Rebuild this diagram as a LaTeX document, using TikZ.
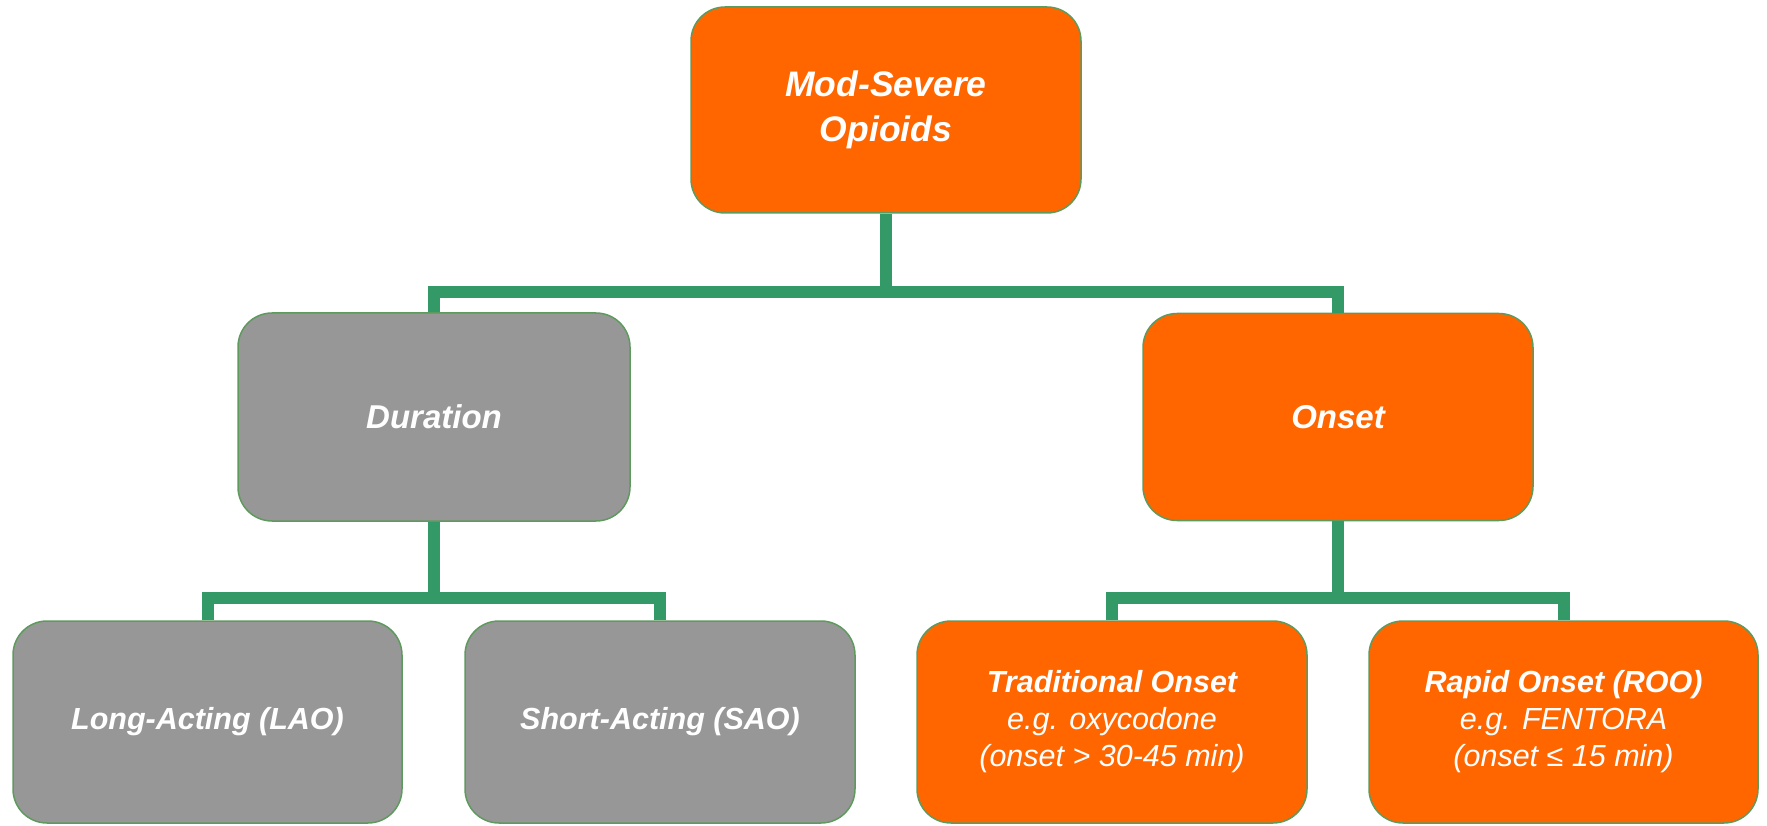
\documentclass[tikz,border=0pt]{standalone}
\usepackage{fontspec}
\setmainfont{Liberation Sans}
\definecolor{conn}{HTML}{339966}
\definecolor{edge}{HTML}{5E9A5E}
\definecolor{orangefill}{HTML}{FF6600}
\definecolor{grayfill}{HTML}{979797}
\tikzset{
  box/.style={rectangle, rounded corners=34pt, draw=edge, line width=1.5pt,
    inner sep=0pt, text=white, align=center},
  orbox/.style={box, fill=orangefill},
  grbox/.style={box, fill=grayfill},
  bigfont/.style={font=\fontsize{35.5pt}{45pt}\selectfont\bfseries\itshape},
  midfont/.style={font=\fontsize{33pt}{40pt}\selectfont\bfseries\itshape},
  lowfont/.style={font=\fontsize{30.5pt}{37pt}\selectfont},
  link/.style={draw=conn, line width=12pt, line join=miter},
}
\begin{document}
\begin{tikzpicture}[x=1pt,y=-1pt]
\useasboundingbox (0,0) rectangle (1767,826);
% connectors (drawn first, boxes on top)
\coordinate (b1) at (886,292);
\coordinate (b2) at (434,598);
\coordinate (b3) at (1338,598);
% nodes
\node[orbox, bigfont, minimum width=390pt, minimum height=206pt] (top) at (886,110) {Mod-Severe\\Opioids};
\node[grbox, midfont, minimum width=392pt, minimum height=208pt] (dur) at (434,417) {Duration};
\node[orbox, midfont, minimum width=390pt, minimum height=207pt] (ons) at (1338,417) {Onset};
\node[grbox, lowfont, minimum width=389pt, minimum height=202pt] (lao) at (207.5,722) {\bfseries\itshape Long-Acting (LAO)};
\node[grbox, lowfont, minimum width=390pt, minimum height=202pt] (sao) at (660,722) {\bfseries\itshape Short-Acting (SAO)};
\node[orbox, lowfont, minimum width=390pt, minimum height=202pt] (trad) at (1112,722) {{\bfseries\itshape Traditional Onset}\\{\itshape e.g. oxycodone}\\{\itshape (onset > 30-45 min)}};
\node[orbox, lowfont, minimum width=389pt, minimum height=202pt] (rapid) at (1563.5,722) {{\bfseries\itshape Rapid Onset (ROO)}\\{\itshape e.g. FENTORA}\\{\itshape (onset ≤ 15 min)}};
% links
\path[link] (top.south) -- (b1);
\path[link] (dur.north) |- (b1) -| (ons.north);
\path[link] (dur.south) -- (b2);
\path[link] (lao.north) |- (b2) -| (sao.north);
\path[link] (ons.south) -- (b3);
\path[link] (trad.north) |- (b3) -| (rapid.north);
\end{tikzpicture}
\end{document}
